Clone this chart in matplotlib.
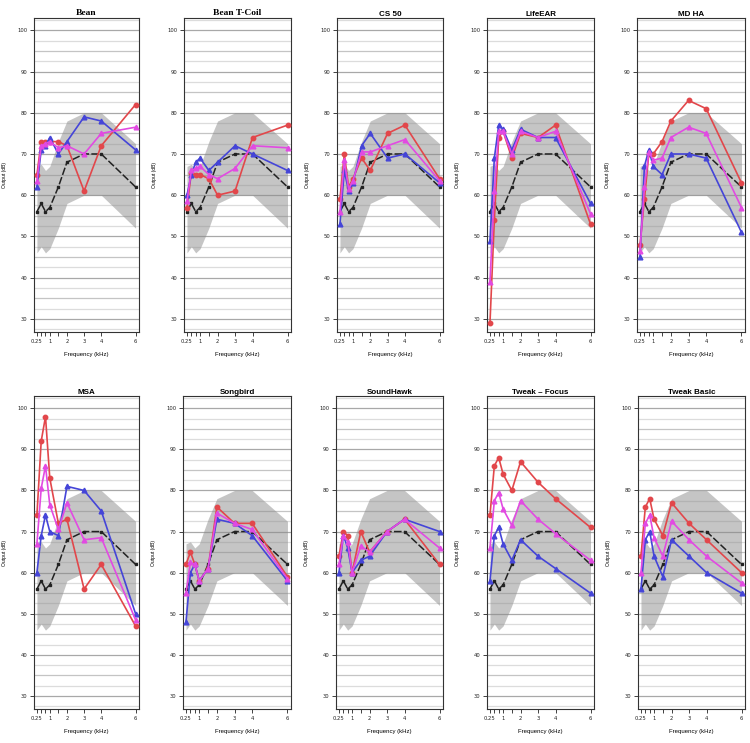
import matplotlib
matplotlib.use("Agg")
import matplotlib.pyplot as plt
import numpy as np

freqs = [0.25, 0.5, 0.75, 1, 1.5, 2, 3, 4, 6]
band_upper = [67, 67.5, 66, 67, 73, 78, 80, 80, 72.5]
band_lower = [46, 47.5, 46, 47, 52, 58, 60, 60, 52]
target = [56, 58, 56, 57, 62, 68, 70, 70, 62]

titles = ["Bean", "Bean T-Coil", "CS 50", "LifeEAR", "MD HA",
          "MSA", "Songbird", "SoundHawk", "Tweak \u2013 Focus", "Tweak Basic"]

red = {
    "Bean":        [65, 73, 73, 73, 73, 72, 61, 72, 82],
    "Bean T-Coil": [57, 65.5, 65, 65, 64, 60, 61, 74, 77],
    "CS 50":       [59, 70, 62, 64, 69, 66, 75, 77, 64],
    "LifeEAR":     [29, 54, 74, 75.5, 69, 75, 74, 77, 53],
    "MD HA":       [48, 59, 70, 70, 73, 78, 83, 81, 63],
    "MSA":         [74, 92, 98, 83, 72, 73, 56, 62, 47],
    "Songbird":    [62, 65, 62, 58, 61, 76, 72, 72, 59],
    "SoundHawk":   [64, 70, 69, 60, 70, 65, 70, 73, 62],
    "Tweak \u2013 Focus": [74, 86, 88, 84, 80, 87, 82, 78, 71],
    "Tweak Basic": [64, 76, 78, 73, 69, 77, 72, 68, 60],
}
pink = {
    "Bean":        [63.5, 72, 72.5, 73, 71.5, 72, 70, 75, 76.5],
    "Bean T-Coil": [58.5, 66, 66.5, 67, 65, 64, 66.5, 72, 71.5],
    "CS 50":       [56, 68.5, 61.5, 63.5, 70.5, 70.5, 72, 73.5, 63.5],
    "LifeEAR":     [39, 61, 75.5, 75.5, 70, 75.5, 74, 75.5, 55.5],
    "MD HA":       [46.5, 62, 70.5, 68.5, 69, 74, 76.5, 75, 57],
    "MSA":         [67, 80.5, 86, 76.5, 70.5, 77, 68, 68.5, 48.5],
    "Songbird":    [55, 62.5, 62, 58, 61, 74.5, 72, 70.5, 58.5],
    "SoundHawk":   [62, 69, 67.5, 60, 66.5, 65, 70, 73, 66],
    "Tweak \u2013 Focus": [66, 77.5, 79.5, 75.5, 71.5, 77.5, 73, 69.5, 63],
    "Tweak Basic": [60, 72, 74, 68.5, 64, 72.5, 68, 64, 57.5],
}
blue = {
    "Bean":        [62, 71, 72, 74, 70, 73, 79, 78, 71],
    "Bean T-Coil": [60, 65, 68, 69, 66, 68, 72, 70, 66],
    "CS 50":       [53, 66, 61, 63, 72, 75, 69, 70, 63],
    "LifeEAR":     [49, 69, 77, 76, 71, 76, 74, 74, 58],
    "MD HA":       [45, 67, 71, 67, 65, 70, 70, 69, 51],
    "MSA":         [60, 69, 74, 70, 69, 81, 80, 75, 50],
    "Songbird":    [48, 60, 62, 58, 61, 73, 72, 69, 58],
    "SoundHawk":   [60, 69, 66, 60, 63, 64, 70, 73, 70],
    "Tweak \u2013 Focus": [58, 69, 71, 67, 63, 68, 64, 61, 55],
    "Tweak Basic": [56, 68, 70, 64, 59, 68, 64, 60, 55],
}

xtick_pos = [0.25, 0.5, 0.75, 1, 1.5, 2, 3, 4, 6]
xtick_lab = ["0.25", "", "", "1", "", "2", "3", "4", "6"]
ytick_pos = [30, 40, 50, 60, 70, 80, 90, 100]

W, H = 750, 743
fig = plt.figure(figsize=(7.5, 7.43), dpi=100)

lefts = [[34, 184, 337, 487, 637], [34, 183, 336, 487, 638]]
rights = [[139, 291, 443, 594, 745], [139, 291, 443, 594, 745]]
tops = [18, 396]
bottoms = [332, 709]

RED = "#e2474b"
PINK = "#e24ae2"
BLUE = "#4545d8"

for i, name in enumerate(titles):
    r, c = divmod(i, 5)
    l, rt = lefts[r][c], rights[r][c]
    t, b = tops[r], bottoms[r]
    ax = fig.add_axes([l / W, 1 - b / H, (rt - l) / W, (b - t) / H])
    ax.set_xlim(0.08, 6.2)
    ax.set_ylim(26.8, 103)
    # grid lines
    for yv in np.arange(27.5, 103, 2.5):
        if abs(yv % 10) < 1e-6:
            col, lw = "#a8a8a8", 0.9
        elif abs(yv % 5) < 1e-6:
            col, lw = "#c4c4c4", 0.9
        else:
            col, lw = "#dcdcdc", 0.9
        ax.axhline(yv, color=col, lw=lw, zorder=1)
    ax.fill_between(freqs, band_lower, band_upper, color="#8c8c8c",
                    alpha=0.5, lw=0, zorder=2)
    ax.plot(freqs, target, color="#222222", lw=1.1, dashes=(5, 1.5),
            marker="s", ms=1.6, zorder=3)
    ax.plot(freqs, red[name], color=RED, lw=1.2, marker="o", ms=3.2,
            zorder=4)
    ax.plot(freqs, blue[name], color=BLUE, lw=1.2, marker="^", ms=3.4,
            zorder=5)
    ax.plot(freqs, pink[name], color=PINK, lw=1.2, marker="^", ms=3.4,
            zorder=6)
    ax.set_xticks(xtick_pos)
    ax.set_xticklabels(xtick_lab)
    ax.set_yticks(ytick_pos)
    ax.tick_params(axis="both", labelsize=3.8, length=3, width=0.6,
                   pad=2, colors="#222222")
    for s in ax.spines.values():
        s.set_color("#333333")
        s.set_linewidth(0.8)
    ax.set_xlabel("Frequency (kHz)", fontsize=4.3, labelpad=6,
                  family="Liberation Sans")
    ax.set_ylabel("Output (dB)", fontsize=3.6, labelpad=7,
                  family="Liberation Sans")
    if i < 2:
        ax.set_title(name, fontsize=6.8, fontweight="bold",
                     family="Liberation Serif", pad=2)
    else:
        ax.set_title(name, fontsize=5.8, fontweight="bold",
                     family="Liberation Sans", pad=1.5)

fig.savefig("out.png", dpi=100, facecolor="white")
